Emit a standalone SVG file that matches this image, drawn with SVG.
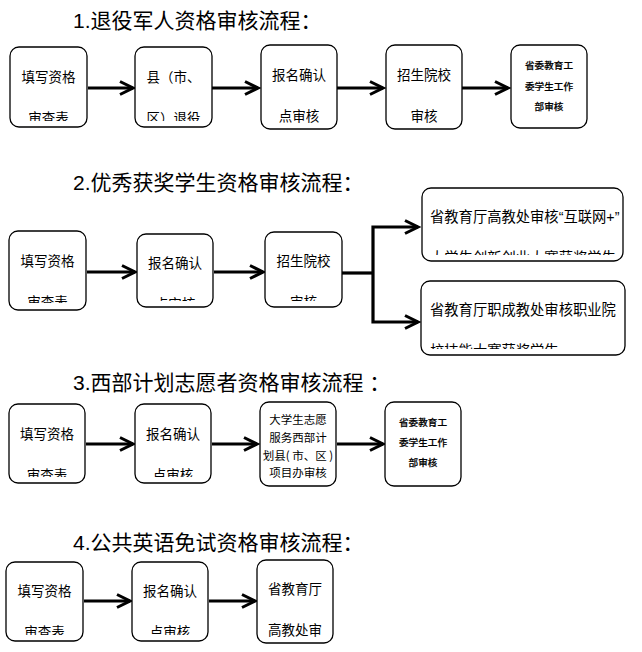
<svg xmlns="http://www.w3.org/2000/svg" width="642" height="652" viewBox="0 0 642 652">
<style>
.title{font-family:"Liberation Sans","Noto Sans CJK SC",sans-serif;font-size:21px;fill:#000}
.box{fill:#fff;stroke:#000;stroke-width:1.3}
.t{font-family:"Noto Sans CJK SC",sans-serif;font-size:13.5px;fill:#000;text-anchor:middle}
.s{font-family:"Noto Sans CJK SC",sans-serif;font-size:9.6px;font-weight:500;fill:#000;text-anchor:middle;stroke:#000;stroke-width:0.2}
.m{font-family:"Noto Sans CJK SC",sans-serif;font-size:11.5px;fill:#000;text-anchor:middle}
.w{font-family:"Liberation Sans","Noto Sans CJK SC",sans-serif;font-size:14.3px;fill:#000}
.c{fill:none;stroke:#000;stroke-width:3.2}
</style>
<defs>
<marker id="arr" markerUnits="userSpaceOnUse" viewBox="0 0 20 20" markerWidth="20" markerHeight="20" refX="17" refY="10" orient="auto">
<path d="M4,3.5 L17,10 L4,16.5" fill="none" stroke="#000" stroke-width="3"/>
</marker>
<clipPath id="c11"><rect x="10" y="47" width="77" height="74"/></clipPath>
<clipPath id="c12"><rect x="135" y="47" width="77" height="74"/></clipPath>
<clipPath id="c13"><rect x="261" y="45" width="76" height="78"/></clipPath>
<clipPath id="c14"><rect x="386" y="45" width="76" height="78"/></clipPath>
<clipPath id="c21"><rect x="9" y="231" width="77" height="72"/></clipPath>
<clipPath id="c22"><rect x="137" y="234" width="76" height="67"/></clipPath>
<clipPath id="c23"><rect x="265" y="232" width="77" height="69"/></clipPath>
<clipPath id="c24"><rect x="422" y="188" width="201" height="67"/></clipPath>
<clipPath id="c25"><rect x="421" y="281" width="204" height="68"/></clipPath>
<clipPath id="c31"><rect x="9" y="404" width="76" height="73"/></clipPath>
<clipPath id="c32"><rect x="135" y="404" width="76" height="73"/></clipPath>
<clipPath id="c41"><rect x="6" y="562" width="77" height="73"/></clipPath>
<clipPath id="c42"><rect x="132" y="562" width="76" height="73"/></clipPath>
<clipPath id="c43"><rect x="257" y="560" width="76" height="77"/></clipPath>
</defs>
<rect width="642" height="652" fill="#fff"/>

<g id="titles">
<text class="title" x="73" y="28">1.退役军人资格审核流程：</text>
<text class="title" x="73" y="190">2.优秀获奖学生资格审核流程：</text>
<text class="title" x="73" y="390">3.西部计划志愿者资格审核流程 ：</text>
<text class="title" x="73" y="550">4.公共英语免试资格审核流程：</text>
</g>

<g id="connectors">
<line class="c" x1="88" y1="88" x2="133" y2="88" marker-end="url(#arr)"/>
<line class="c" x1="212" y1="88" x2="258" y2="88" marker-end="url(#arr)"/>
<line class="c" x1="337" y1="88" x2="383" y2="88" marker-end="url(#arr)"/>
<line class="c" x1="462" y1="88" x2="508" y2="88" marker-end="url(#arr)"/>

<line class="c" x1="87" y1="272" x2="135" y2="272" marker-end="url(#arr)"/>
<line class="c" x1="214" y1="272" x2="263" y2="272" marker-end="url(#arr)"/>
<path class="c" d="M342,273 H373"/>
<path class="c" d="M373,273 V227 H418" marker-end="url(#arr)"/>
<path class="c" d="M373,273 V322 H418" marker-end="url(#arr)"/>

<line class="c" x1="86" y1="444" x2="133" y2="444" marker-end="url(#arr)"/>
<line class="c" x1="212" y1="444" x2="257" y2="444" marker-end="url(#arr)"/>
<line class="c" x1="337" y1="444" x2="383" y2="444" marker-end="url(#arr)"/>

<line class="c" x1="84" y1="601" x2="130" y2="601" marker-end="url(#arr)"/>
<line class="c" x1="209" y1="601" x2="255" y2="601" marker-end="url(#arr)"/>
</g>

<g id="n1-1"><rect class="box" x="10" y="47" width="77" height="80" rx="9"/>
<g clip-path="url(#c11)"><text class="t" x="48.5" y="82">填写资格</text><text class="t" x="48.5" y="123">审查表</text></g></g>
<g id="n1-2"><rect class="box" x="135" y="47" width="77" height="80" rx="9"/>
<g clip-path="url(#c12)"><text class="t" x="173.5" y="82">县（市、</text><text class="t" x="173.5" y="123">区）退役</text></g></g>
<g id="n1-3"><rect class="box" x="261" y="45" width="76" height="84" rx="9"/>
<g clip-path="url(#c13)"><text class="t" x="299" y="80">报名确认</text><text class="t" x="299" y="121">点审核</text></g></g>
<g id="n1-4"><rect class="box" x="386" y="45" width="76" height="84" rx="9"/>
<g clip-path="url(#c14)"><text class="t" x="424" y="80">招生院校</text><text class="t" x="424" y="121">审核</text></g></g>
<g id="n1-5"><rect class="box" x="511" y="45" width="76" height="83" rx="9"/>
<text class="s" x="549" y="69">省委教育工</text><text class="s" x="549" y="90">委学生工作</text><text class="s" x="549" y="110">部审核</text></g>

<g id="n2-1"><rect class="box" x="9" y="231" width="77" height="79" rx="9"/>
<g clip-path="url(#c21)"><text class="t" x="47.5" y="266">填写资格</text><text class="t" x="47.5" y="307">审查表</text></g></g>
<g id="n2-2"><rect class="box" x="137" y="234" width="76" height="73" rx="9"/>
<g clip-path="url(#c22)"><text class="t" x="175" y="268">报名确认</text><text class="t" x="175" y="309">点审核</text></g></g>
<g id="n2-3"><rect class="box" x="265" y="232" width="77" height="75" rx="9"/>
<g clip-path="url(#c23)"><text class="t" x="303.5" y="266">招生院校</text><text class="t" x="303.5" y="307">审核</text></g></g>
<g id="n2-4"><rect class="box" x="422" y="188" width="201" height="73" rx="9"/>
<g clip-path="url(#c24)"><text class="w" x="430" y="222">省教育厅高教处审核“互联网+”</text><text class="w" x="430" y="263">大学生创新创业大赛获奖学生</text></g></g>
<g id="n2-5"><rect class="box" x="421" y="281" width="204" height="74" rx="9"/>
<g clip-path="url(#c25)"><text class="w" x="430" y="315">省教育厅职成教处审核职业院</text><text class="w" x="430" y="356">校技能大赛获奖学生</text></g></g>

<g id="n3-1"><rect class="box" x="9" y="404" width="76" height="79" rx="9"/>
<g clip-path="url(#c31)"><text class="t" x="47" y="439">填写资格</text><text class="t" x="47" y="480">审查表</text></g></g>
<g id="n3-2"><rect class="box" x="135" y="404" width="76" height="79" rx="9"/>
<g clip-path="url(#c32)"><text class="t" x="173" y="439">报名确认</text><text class="t" x="173" y="480">点审核</text></g></g>
<g id="n3-3"><rect class="box" x="260" y="402" width="76" height="84" rx="9"/>
<text class="m" x="298" y="424">大学生志愿</text><text class="m" x="298" y="442">服务西部计</text><text class="m" x="298" y="460">划县( 市、区 )</text><text class="m" x="298" y="477">项目办审核</text></g>
<g id="n3-4"><rect class="box" x="385" y="402" width="76" height="84" rx="9"/>
<text class="s" x="423" y="426">省委教育工</text><text class="s" x="423" y="446">委学生工作</text><text class="s" x="423" y="466">部审核</text></g>

<g id="n4-1"><rect class="box" x="6" y="562" width="77" height="79" rx="9"/>
<g clip-path="url(#c41)"><text class="t" x="44.5" y="596">填写资格</text><text class="t" x="44.5" y="637">审查表</text></g></g>
<g id="n4-2"><rect class="box" x="132" y="562" width="76" height="79" rx="9"/>
<g clip-path="url(#c42)"><text class="t" x="170" y="596">报名确认</text><text class="t" x="170" y="637">点审核</text></g></g>
<g id="n4-3"><rect class="box" x="257" y="560" width="76" height="83" rx="9"/>
<g clip-path="url(#c43)"><text class="t" x="295" y="594">省教育厅</text><text class="t" x="295" y="635">高教处审</text></g></g>
</svg>
